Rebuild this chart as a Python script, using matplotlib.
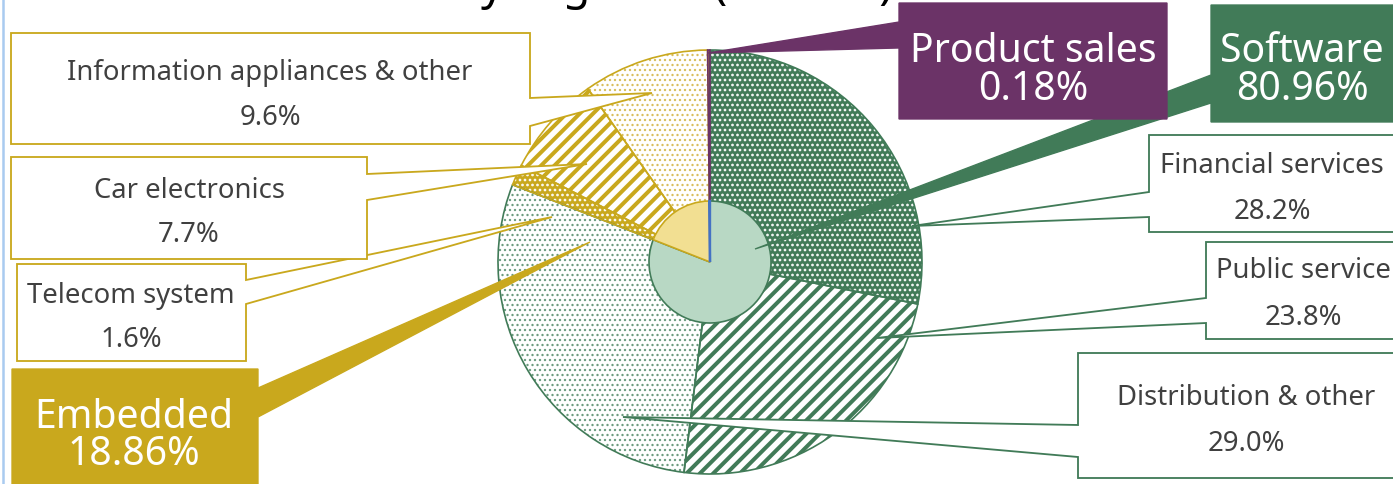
import matplotlib
matplotlib.use('agg')
import matplotlib.pyplot as plt
from matplotlib.patches import Polygon

W, H, DPI = 1393, 484, 120

# ---- data ----
title = "Sales by segment (FY2021)"
inner_labels = ["Software", "Embedded", "Product sales"]
inner_values = [80.96, 18.86, 0.18]
outer_labels = ["Financial services", "Public service", "Distribution & other",
                "Telecom system", "Car electronics", "Information appliances & other",
                "Product sales"]
outer_values = [28.2, 23.8, 29.0, 1.6, 7.7, 9.6, 0.18]

# ---- style ----
GREEN = '#417B58'
GOLD = '#C9A81D'
PURPLE = '#6B3367'
BLUE = '#4472C4'
TEXT = '#404040'

outer_face = [GREEN, 'white', 'white', GOLD, 'white', 'white', PURPLE]
outer_hatch = ['....', '///', '....', '....', '///', '....', '']
outer_hcolor = ['white', GREEN, '#6A9A7D', 'white', GOLD, '#D8BE5A', PURPLE]
outer_hlw = [1.0, 2.4, 0.8, 1.0, 2.4, 0.8, 0.5]
outer_edge = [GREEN, GREEN, GREEN, GOLD, GOLD, GOLD, PURPLE]
inner_face = ['#B8D8C4', '#F2DF92', BLUE]
inner_edge = [GREEN, GOLD, BLUE]

# pie geometry in pixels (y measured from the top)
cx, cy, R, r_in = 710, 262, 212, 61

# callout layout: box (x0, y0, x1, y1), pointer side, pointer base (ya, yb), tip, text x, baselines
big_boxes = {
    "Product sales": dict(box=(899, 3, 1167, 119), side='left', base=(22, 48), tip=(708, 53),
                          tx=1033, lines=(62, 100), color=PURPLE),
    "Software": dict(box=(1211, 5, 1400, 122), side='left', base=(75, 103), tip=(755, 249),
                     tx=1302, lines=(62, 100), color=GREEN),
    "Embedded": dict(box=(12, 369, 258, 490), side='right', base=(388, 417), tip=(590, 242),
                     tx=134, lines=(428, 465), color=GOLD),
}
small_boxes = {
    "Financial services": dict(box=(1149, 135, 1400, 232), side='left', base=(192, 217),
                               tip=(912, 226), tx=1272, lines=(173, 219), color=GREEN),
    "Public service": dict(box=(1206, 242, 1400, 339), side='left', base=(298, 323),
                           tip=(877, 338), tx=1303, lines=(278, 325), color=GREEN),
    "Distribution & other": dict(box=(1078, 353, 1420, 478), side='left', base=(425, 457),
                                 tip=(623, 417), tx=1246, lines=(405, 451), color=GREEN),
    "Telecom system": dict(box=(17, 264, 246, 361), side='right', base=(280, 304),
                           tip=(552, 217), tx=131, lines=(303, 347), color=GOLD),
    "Car electronics": dict(box=(11, 157, 367, 259), side='right', base=(174, 200),
                            tip=(587, 164), tx=189, lines=(198, 242), color=GOLD),
    "Information appliances & other": dict(box=(11, 33, 530, 144), side='right', base=(98, 126),
                                           tip=(652, 93), tx=270, lines=(80, 125), color=GOLD),
}


def px(x, y):
    return (x, H - y)


def callout(ax, c, face, edge, lw):
    x0, y0, x1, y1 = c['box']
    ya, yb = c['base']
    if c['side'] == 'left':
        pts = [(x0, y0), (x1, y0), (x1, y1), (x0, y1), (x0, yb), c['tip'], (x0, ya)]
    else:
        pts = [(x0, y0), (x1, y0), (x1, ya), c['tip'], (x1, yb), (x1, y1), (x0, y1)]
    ax.add_patch(Polygon([px(*p) for p in pts], closed=True, facecolor=face,
                         edgecolor=edge, linewidth=lw, zorder=5, joinstyle='miter'))


plt.rcParams['font.family'] = ['Noto Sans', 'DejaVu Sans']
fig = plt.figure(figsize=(W / DPI, H / DPI), dpi=DPI)
ax = fig.add_axes([0, 0, 1, 1])

# outer ring: hatched fill
wedges, _ = ax.pie(outer_values, radius=R, center=px(cx, cy), startangle=90,
                   counterclock=False, colors=outer_face, wedgeprops=dict(linewidth=0))
for w, hc, ht, hl in zip(wedges, outer_hcolor, outer_hatch, outer_hlw):
    w.set_edgecolor(hc)
    w.set_hatch(ht)
    if hasattr(w, 'set_hatch_linewidth'):
        w.set_hatch_linewidth(hl)
    w.set_zorder(1)

# outer ring: outlines
wedges, _ = ax.pie(outer_values, radius=R, center=px(cx, cy), startangle=90,
                   counterclock=False, wedgeprops=dict(linewidth=1.0, fill=False))
for w, ec in zip(wedges, outer_edge):
    w.set_edgecolor(ec)
    w.set_zorder(2)

# inner pie
wedges, _ = ax.pie(inner_values, radius=r_in, center=px(cx, cy), startangle=90,
                   counterclock=False, colors=inner_face, wedgeprops=dict(linewidth=1.0))
for w, ec in zip(wedges, inner_edge):
    w.set_edgecolor(ec)
    w.set_zorder(3)
wedges[2].set_linewidth(1.4)

# callouts for the sub-segments
for lab, val in zip(outer_labels, outer_values):
    if lab not in small_boxes:
        continue
    c = small_boxes[lab]
    callout(ax, c, 'white', c['color'], 1.1)
    ax.text(*px(c['tx'], c['lines'][0]), lab, ha='center', va='baseline',
            fontsize=16.5, color=TEXT, zorder=6)
    ax.text(*px(c['tx'], c['lines'][1]), f"{val:.1f}%", ha='center', va='baseline',
            fontsize=16.5, color=TEXT, zorder=6)

# callouts for the main segments
for lab, val in zip(inner_labels, inner_values):
    c = big_boxes[lab]
    callout(ax, c, c['color'], c['color'], 0.8)
    ax.text(*px(c['tx'], c['lines'][0]), lab, ha='center', va='baseline',
            fontsize=23.5, color='white', zorder=6)
    ax.text(*px(c['tx'], c['lines'][1]), f"{val:.2f}%", ha='center', va='baseline',
            fontsize=23.5, color='white', zorder=6)

# title sits above the visible area, only its descenders show
ax.text(*px(893, -1), title, ha='right', va='baseline', fontsize=27, color='black', zorder=6)

ax.axvline(2.5, color='#A9CBF0', linewidth=1.5)

ax.set_xlim(0, W)
ax.set_ylim(0, H)
ax.set_aspect('auto')
ax.axis('off')

fig.savefig('out.png', dpi=DPI, facecolor='white')
